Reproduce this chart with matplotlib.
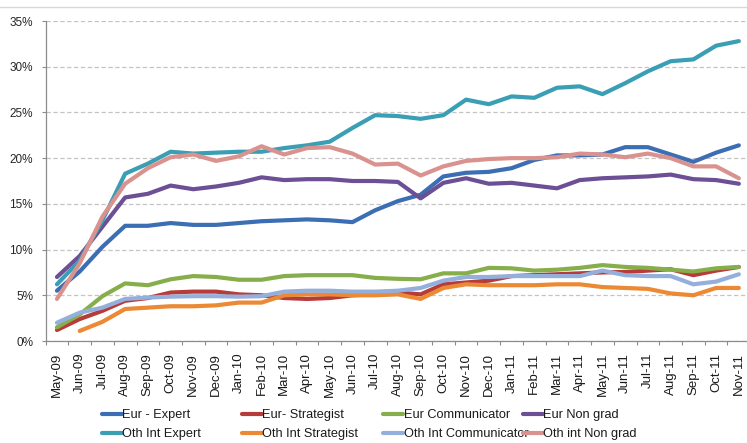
import numpy as np
import matplotlib
matplotlib.use("Agg")
import matplotlib.pyplot as plt
from matplotlib.lines import Line2D
from matplotlib.ticker import FixedLocator, FuncFormatter

plt.rcParams['font.family'] = ['Liberation Sans', 'DejaVu Sans']

months = ["May-09", "Jun-09", "Jul-09", "Aug-09", "Sep-09", "Oct-09", "Nov-09",
          "Dec-09", "Jan-10", "Feb-10", "Mar-10", "Apr-10", "May-10", "Jun-10",
          "Jul-10", "Aug-10", "Sep-10", "Oct-10", "Nov-10", "Dec-10", "Jan-11",
          "Feb-11", "Mar-11", "Apr-11", "May-11", "Jun-11", "Jul-11", "Aug-11",
          "Sep-11", "Oct-11", "Nov-11"]

# Shares in percent, one value per month
eur_expert = [5.5, 7.6, 10.3, 12.6, 12.6, 12.9, 12.7, 12.7, 12.9, 13.1,
              13.2, 13.3, 13.2, 13.0, 14.3, 15.3, 16.0, 18.0, 18.4, 18.5,
              18.9, 19.8, 20.3, 20.3, 20.4, 21.2, 21.2, 20.4, 19.6, 20.6, 21.4]
eur_strategist = [1.2, 2.4, 3.3, 4.4, 4.7, 5.3, 5.4, 5.4, 5.1, 5.0,
                  4.7, 4.6, 4.7, 5.0, 5.1, 5.3, 5.1, 6.2, 6.4, 6.6,
                  7.1, 7.2, 7.3, 7.4, 7.5, 7.55, 7.7, 7.85, 7.2, 7.7, 8.1]
eur_communicator = [1.5, 2.9, 4.9, 6.3, 6.1, 6.75, 7.1, 7.0, 6.7, 6.7,
                    7.1, 7.2, 7.2, 7.2, 6.9, 6.8, 6.75, 7.4, 7.4, 8.0,
                    7.95, 7.7, 7.8, 8.0, 8.3, 8.1, 8.0, 7.8, 7.6, 7.95, 8.1]
eur_non_grad = [7.0, 9.3, 12.5, 15.7, 16.1, 17.0, 16.6, 16.9, 17.3, 17.9,
                17.6, 17.7, 17.7, 17.5, 17.5, 17.4, 15.6, 17.3, 17.8, 17.2,
                17.3, 17.0, 16.7, 17.6, 17.8, 17.9, 18.0, 18.2, 17.7, 17.6, 17.2]
oth_expert = [6.2, 8.8, 13.2, 18.3, 19.4, 20.7, 20.5, 20.6, 20.7, 20.7,
              21.1, 21.4, 21.8, 23.3, 24.7, 24.6, 24.3, 24.7, 26.4, 25.9,
              26.75, 26.6, 27.7, 27.85, 27.0, 28.2, 29.5, 30.6, 30.8, 32.3, 32.8]
oth_strategist = [np.nan, 1.1, 2.1, 3.5, 3.65, 3.8, 3.8, 3.9, 4.2, 4.2,
                  5.0, 5.1, 5.1, 5.0, 5.0, 5.1, 4.6, 5.8, 6.2, 6.1,
                  6.1, 6.1, 6.2, 6.2, 5.9, 5.8, 5.7, 5.2, 5.0, 5.8, 5.8]
oth_communicator = [2.0, 3.1, 3.65, 4.6, 4.75, 4.85, 4.9, 4.9, 4.85, 4.9,
                    5.4, 5.5, 5.5, 5.4, 5.4, 5.5, 5.8, 6.6, 7.0, 7.0,
                    7.1, 7.1, 7.1, 7.1, 7.7, 7.2, 7.1, 7.1, 6.2, 6.5, 7.3]
oth_non_grad = [4.6, 8.5, 13.6, 17.2, 18.9, 20.1, 20.4, 19.7, 20.2, 21.3,
                20.4, 21.1, 21.2, 20.5, 19.3, 19.4, 18.1, 19.1, 19.7, 19.9,
                20.0, 20.0, 20.1, 20.5, 20.4, 20.1, 20.5, 20.0, 19.1, 19.1, 17.8]

series_names = ["Eur - Expert", "Eur- Strategist", "Eur Communicator", "Eur Non grad",
                "Oth Int Expert", "Oth Int Strategist", "Oth Int Communicator",
                "Oth int Non grad"]
series_values = [eur_expert, eur_strategist, eur_communicator, eur_non_grad,
                 oth_expert, oth_strategist, oth_communicator, oth_non_grad]
series_colors = ["#3C6EB4", "#B63B39", "#86AE4A", "#6C4F94",
                 "#3A9EB4", "#EB8934", "#95AFDC", "#D9928E"]

y_ticks = [0, 5, 10, 15, 20, 25, 30, 35]

W, H = 747, 443
fig = plt.figure(figsize=(W / 100, H / 100), dpi=100)
ax = fig.add_axes([45.6 / W, (H - 341) / H, 704.6 / W, 320 / H])

x = np.arange(len(months))
handles = []
for name, vals, col in zip(series_names, series_values, series_colors):
    ln, = ax.plot(x, vals, color=col, lw=3.0, solid_joinstyle='round',
                  solid_capstyle='round', label=name)
    handles.append(ln)

ax.set_xlim(-0.5, len(months) - 0.5)
ax.set_ylim(0, 35)

# y axis
ax.set_yticks(y_ticks)
ax.yaxis.set_major_formatter(FuncFormatter(lambda v, p: f"{v:.0f}%"))
ax.tick_params(axis='y', direction='out', length=3, width=0.8, color='#8C8C8C',
               labelsize=8.5, labelcolor='#262626', pad=6)
ax.yaxis.grid(True, linestyle=(0, (3.5, 2)), color='#C4C4C4', lw=0.9)
ax.set_axisbelow(True)

# x axis: labels at month centres, ticks on month boundaries
ax.set_xticks(x)
ax.set_xticklabels(months, rotation=90, fontsize=9.5, color='#1a1a1a')
ax.tick_params(axis='x', which='major', length=0, pad=8.5)
ax.xaxis.set_minor_locator(FixedLocator(np.arange(-0.5, len(months), 1.0)))
ax.tick_params(axis='x', which='minor', direction='out', length=3, width=0.8,
               color='#8C8C8C')

for s in ('top', 'right'):
    ax.spines[s].set_visible(False)
for s in ('left', 'bottom'):
    ax.spines[s].set_color('#8C8C8C')
    ax.spines[s].set_linewidth(0.9)

# thin border line across the top of the chart area
fig.add_artist(Line2D([0, 1], [(H - 7) / H, (H - 7) / H], color='#D9D9D9', lw=1))

# legend: four columns of two rows
col_left = [101.7, 241.7, 383.3, 523.0]
for c, xl in enumerate(col_left):
    hs = [handles[c], handles[c + 4]]
    leg = fig.legend(hs, [h.get_label() for h in hs], loc='center left',
                     bbox_to_anchor=(xl / W, (H - 424.5) / H),
                     bbox_transform=fig.transFigure, frameon=False,
                     fontsize=9.2, handlelength=1.55, handletextpad=0.05,
                     borderpad=0, borderaxespad=0, labelspacing=0.55)
    for t in leg.get_texts():
        t.set_color('#1a1a1a')

fig.savefig("out.png", dpi=100)
